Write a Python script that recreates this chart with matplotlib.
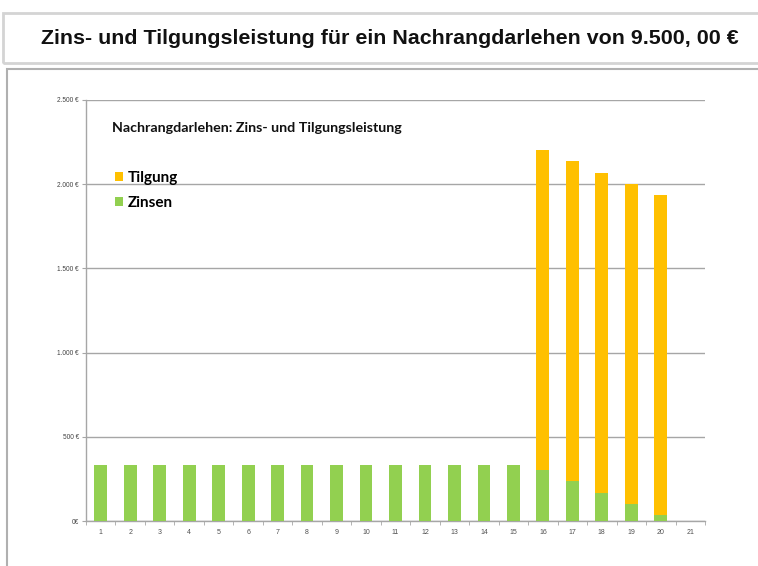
import matplotlib
matplotlib.use("Agg")
import matplotlib.pyplot as plt
from matplotlib.patches import Rectangle, Patch
import numpy as np

# ---- data ----
years = list(range(1, 22))
zinsen = [332.5] * 15 + [301, 235, 168, 101, 34, 0]
tilgung = [0] * 15 + [1900, 1900, 1900, 1900, 1900, 0]
y_ticks = [0, 500, 1000, 1500, 2000, 2500]
main_title = "Zins- und Tilgungsleistung für ein Nachrangdarlehen von 9.500, 00 €"
chart_title = "Nachrangdarlehen: Zins- und Tilgungsleistung"
series_names = ["Tilgung", "Zinsen"]

W, H = 758, 566
GREEN = "#92D050"
ORANGE = "#FFC000"
GRID = "#a6a6a6"

fig = plt.figure(figsize=(W / 100, H / 100), dpi=100)
fig.patch.set_facecolor("white")

def fx(px):
    return px / W

def fy(py):
    return 1 - py / H

# title box
fig.add_artist(Rectangle((fx(3), fy(63)), fx(800), 50 / H, transform=fig.transFigure,
                         fill=False, edgecolor="#d4d4d4", linewidth=2))
# chart box
fig.add_artist(Rectangle((fx(7), fy(600)), fx(800), (600 - 69) / H, transform=fig.transFigure,
                         fill=False, edgecolor="#b0b0b0", linewidth=1.5))

fig.text(fx(390), fy(38), main_title, ha="center", va="center",
         fontsize=15.4, fontweight="bold", family="Liberation Sans", color="#111111")

ax = fig.add_axes([fx(86), fy(521), (705 - 86) / W, (521 - 100) / H])
x = np.array(years)
width = 0.435
ax.bar(x, zinsen, width=width, color=GREEN, zorder=3)
ax.bar(x, tilgung, width=width, bottom=zinsen, color=ORANGE, zorder=3)

ax.set_xlim(0.5, 21.5)
ax.set_ylim(0, 2500)
ax.set_yticks(y_ticks)
ax.set_yticklabels([f"{v:,}".replace(",", ".") + " €" if v else "0€" for v in y_ticks],
                   fontsize=4.7, color="#404040", family="Liberation Sans")
ax.set_xticks(x)
ax.set_xticklabels([str(v) for v in years], fontsize=5, color="#505050", family="Liberation Sans")
ax.tick_params(axis="x", which="major", length=0, pad=6)
ax.set_xticks(np.arange(0.5, 22, 1), minor=True)
ax.tick_params(axis="x", which="minor", length=3, color=GRID, direction="out")
ax.tick_params(axis="y", length=3, color=GRID, pad=2)

ax.grid(axis="y", color=GRID, linewidth=1, zorder=0)
for s in ["top", "right"]:
    ax.spines[s].set_visible(False)
for s in ["left", "bottom"]:
    ax.spines[s].set_color(GRID)
    ax.spines[s].set_linewidth(1)

fig.text(fx(112), fy(128), chart_title, ha="left", va="center",
         fontsize=10.3, fontweight="bold", family="Lato", color="#111111")

handles = [Patch(facecolor=ORANGE, edgecolor="none"), Patch(facecolor=GREEN, edgecolor="none")]
fig.legend(handles, series_names, loc="upper left", bbox_to_anchor=(fx(115), fy(171)),
           bbox_transform=fig.transFigure, frameon=False, borderpad=0, borderaxespad=0,
           handlelength=0.55, handleheight=0.55, handletextpad=0.3, labelspacing=0.72,
           prop={"family": "Lato", "weight": "bold", "size": 11})

fig.savefig("out.png", dpi=100)
